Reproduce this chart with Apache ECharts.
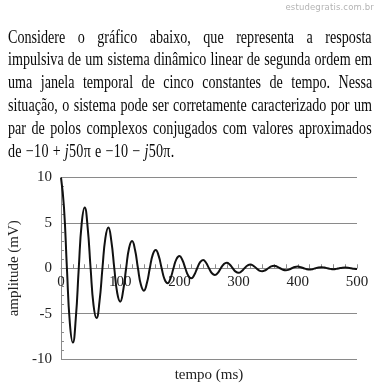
<!DOCTYPE html>
<html>
<head>
<meta charset="utf-8">
<script src="https://cdn.jsdelivr.net/npm/echarts@6/dist/echarts.min.js"></script>
<style>
  html, body { margin:0; padding:0; background:#fff; }
  body { width:380px; height:392px; overflow:hidden; position:relative; }
  #chart { position:absolute; left:0; top:0; width:380px; height:392px; }
  #wm { position:absolute; right:6px; top:1px; font-family:'DejaVu Sans'; font-size:8.5px; letter-spacing:0.15px; color:#b4b4b4; line-height:12px; }
  .ln { position:absolute; left:8px; font-family:'Liberation Serif'; font-size:17px; line-height:22.8px; color:#0a0a0a; white-space:nowrap; transform-origin:0 50%; display:inline-block; }
</style>
</head>
<body>
<div id="chart"></div>
<div id="wm">estudegratis.com.br</div>
<script>
// ---- text ----
const paragraphLines = [
  'Considere o gráfico abaixo, que representa a resposta',
  'impulsiva de um sistema dinâmico linear de segunda ordem em',
  'uma janela temporal de cinco constantes de tempo. Nessa',
  'situação, o sistema pode ser corretamente caracterizado por um',
  'par de polos complexos conjugados com valores aproximados',
  'de −10 + <i>j</i>50π e −10 − <i>j</i>50π.'
];
const lineCenters = [38, 60.8, 83.6, 106.4, 129.2, 152];

// ---- chart data ----
const stepMs = 5;
const amplitude = [
  10, 6.73, 0, -6.09, -8.19, -5.51, 0, 4.98,
  6.70, 4.51, 0, -4.08, -5.49, -3.69, 0, 3.34,
  4.49, 3.02, 0, -2.73, -3.68, -2.47, 0, 2.24,
  3.01, 2.03, 0, -1.83, -2.47, -1.66, 0, 1.50,
  2.02, 1.36, 0, -1.23, -1.65, -1.11, 0, 1.01,
  1.35, 0.91, 0, -0.82, -1.11, -0.75, 0, 0.67,
  0.91, 0.61, 0, -0.55, -0.74, -0.50, 0, 0.45,
  0.61, 0.41, 0, -0.37, -0.50, -0.33, 0, 0.30,
  0.41, 0.27, 0, -0.25, -0.33, -0.22, 0, 0.20,
  0.27, 0.18, 0, -0.17, -0.22, -0.15, 0, 0.14,
  0.18, 0.12, 0, -0.11, -0.15, -0.10, 0, 0.09,
  0.12, 0.08, 0, -0.07, -0.10, -0.07, 0, 0.06,
  0.08, 0.06, 0, -0.05, -0.07
];
const xTicks = [0, 100, 200, 300, 400, 500];
const yTicks = [-10, -5, 0, 5, 10];

// ---- paragraph layout ----
const SX = 0.83, SY = 1.08, TARGET = 364, LAST_TARGET = 167;
paragraphLines.forEach((html, i) => {
  const d = document.createElement('div');
  d.className = 'ln';
  d.innerHTML = html;
  d.style.top = (lineCenters[i] - 11.4) + 'px';
  document.body.appendChild(d);
  const natural = d.offsetWidth;
  const last = i === paragraphLines.length - 1;
  const tgt = (last ? LAST_TARGET : TARGET) / SX;
  const txt = d.textContent;
  const spaces = (txt.match(/ /g) || []).length;
  const diff = tgt - natural;
  if (diff >= 0 && !last) {
    d.style.wordSpacing = (diff / spaces) + 'px';
  } else {
    d.style.letterSpacing = (diff / txt.length) + 'px';
  }
  d.style.transform = 'scale(' + SX + ',' + SY + ')';
});

// ---- chart ----
const chart = echarts.init(document.getElementById('chart'), null, { renderer: 'canvas' });
const serif = 'Liberation Serif';
const gray = '#8a8a8a';
const gridH = 181.5;
chart.setOption({
  animation: false,
  grid: { left: 61, top: 177.5, width: 296, height: gridH, containLabel: false, outerBoundsMode: 'none' },
  xAxis: {
    type: 'value', min: xTicks[0], max: xTicks[xTicks.length - 1], interval: 100,
    position: 'bottom',
    offset: -gridH / 2,
    axisLine: { show: true, onZero: false, lineStyle: { color: gray, width: 1 } },
    axisTick: { show: true, inside: true, length: 4, lineStyle: { color: gray } },
    minorTick: { show: true, splitNumber: 5, length: 4, lineStyle: { color: gray } },
    axisLabel: { margin: 6, fontFamily: serif, fontSize: 15, color: '#222' },
    splitLine: { show: false },
    name: 'tempo (ms)', nameLocation: 'middle', nameGap: 99,
    nameTextStyle: { fontFamily: serif, fontSize: 15, color: '#222' }
  },
  yAxis: {
    type: 'value', min: yTicks[0], max: yTicks[yTicks.length - 1], interval: 5,
    axisLine: { show: true, onZero: false, lineStyle: { color: gray, width: 1 } },
    axisTick: { show: true, inside: true, length: 4, lineStyle: { color: gray } },
    minorTick: { show: true, splitNumber: 5, length: 3, lineStyle: { color: gray } },
    splitLine: { show: true, lineStyle: { color: gray, width: 1 } },
    axisLabel: { margin: 9, fontFamily: serif, fontSize: 15, color: '#222' },
    name: 'amplitude (mV)', nameLocation: 'middle', nameGap: 31, nameRotate: 90,
    nameTextStyle: { fontFamily: serif, fontSize: 15, color: '#222' }
  },
  series: [{
    type: 'line',
    data: amplitude.map((v, i) => [i * stepMs, v]),
    smooth: true,
    symbol: 'none',
    clip: false,
    lineStyle: { color: '#111', width: 2 }
  }]
});
</script>
</body>
</html>
